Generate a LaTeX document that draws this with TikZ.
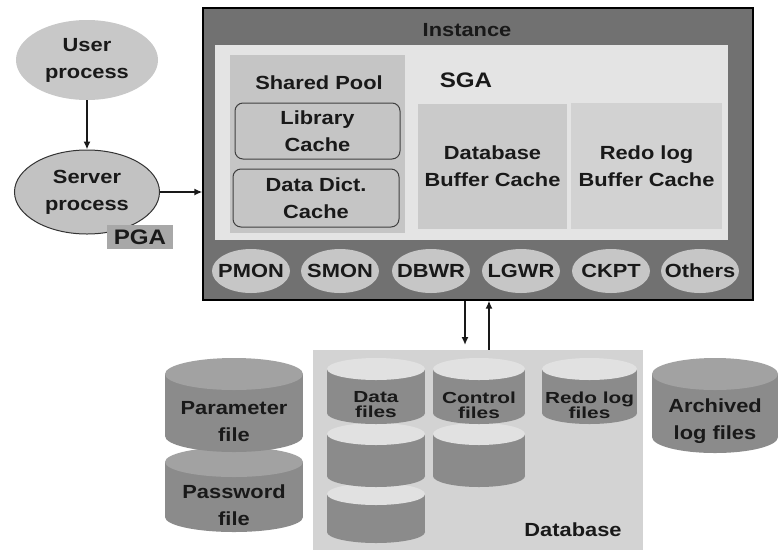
\documentclass[tikz,border=0pt]{standalone}
\usepackage{fontspec}
\setmainfont{Liberation Sans}[FakeStretch=1.15]
\newfontfamily\cylfont{Liberation Sans}[FakeStretch=1.3]
\usetikzlibrary{shapes.geometric,arrows.meta}
\definecolor{procfill}{HTML}{C8C8C8}
\definecolor{servfill}{HTML}{C2C2C2}
\definecolor{instfill}{HTML}{717171}
\definecolor{sgafill}{HTML}{E4E4E4}
\definecolor{poolfill}{HTML}{C5C5C5}
\definecolor{bufffill}{HTML}{CACACA}
\definecolor{redofill}{HTML}{D2D2D2}
\definecolor{bgfill}{HTML}{C6C6C6}
\definecolor{dbfill}{HTML}{D3D3D3}
\definecolor{cyltop}{HTML}{E1E1E1}
\definecolor{cylbody}{HTML}{8B8B8B}
\definecolor{cyldtop}{HTML}{A2A2A2}
\definecolor{pgafill}{HTML}{A8A8A8}
\newcommand{\cylshape}[7]{%
  \fill[#7] (#1-#4,#2) rectangle (#1+#4,#3);
  \fill[#7] (#1,#3) ellipse [x radius=#4pt, y radius=#5pt];
  \fill[#6] (#1,#2) ellipse [x radius=#4pt, y radius=#5pt];}
\tikzset{
  every node/.style={font=\bfseries\fontsize{19}{27}\selectfont, text=black!90, align=center, inner sep=0pt},
  bigtxt/.style={font=\bfseries\fontsize{21}{21}\selectfont},
  cyltxt/.style={font=\cylfont\bfseries\fontsize{16}{15}\selectfont},
  area/.style={rectangle, minimum width=#1},
  bgp/.style={ellipse, fill=bgfill, minimum width=78pt, minimum height=44pt},
  cachebox/.style={rectangle, rounded corners=8pt, draw=black!75, line width=1pt, fill=poolfill},
  arr/.style={-{Latex[length=8pt,width=7pt]}, line width=1.6pt, draw=black!90}
}
\begin{document}
\begin{tikzpicture}[x=1pt,y=-1pt]
\useasboundingbox[fill=white] (0,0) rectangle (779,550);

% left processes
\node[ellipse, fill=procfill, minimum width=142pt, minimum height=80pt] (user) at (87,60) {User\\process};
\node[ellipse, fill=servfill, draw=black!80, line width=1pt, minimum width=145pt, minimum height=84pt] (server) at (87,192) {Server\\process};
\node[rectangle, fill=pgafill, minimum width=66pt, minimum height=24pt, bigtxt] (pga) at (140,237) {PGA};

% instance
\node[rectangle, draw=black, line width=1.2pt, fill=instfill, minimum width=550pt, minimum height=292pt] (inst) at (478,154) {};
\node (insttitle) at (467,30) {Instance};
\node[rectangle, fill=sgafill, minimum width=513pt, minimum height=195pt] (sga) at (471.5,142.5) {};
\node[bigtxt] (sgalabel) at (466,80) {SGA};
\node[rectangle, fill=poolfill, minimum width=175pt, minimum height=178pt] (pool) at (317.5,144) {};
\node (poollabel) at (319,83) {Shared Pool};
\node[cachebox, minimum width=165pt, minimum height=56pt] (lib) at (317.5,131) {Library\\Cache};
\node[cachebox, minimum width=166pt, minimum height=58pt] (dict) at (316,198) {Data Dict.\\Cache};
\node[rectangle, fill=bufffill, minimum width=149pt, minimum height=125pt] (dbbuf) at (492.5,166) {Database\\Buffer Cache};
\node[rectangle, fill=redofill, minimum width=151pt, minimum height=126pt] (redobuf) at (646.5,166) {Redo log\\Buffer Cache};

% background processes
\node[bgp, label={center:PMON}] (pmon) at (251,271) {};
\node[bgp, label={center:SMON}] (smon) at (340,271) {};
\node[bgp, label={center:DBWR}] (dbwr) at (431,271) {};
\node[bgp, label={center:LGWR}] (lgwr) at (521,271) {};
\node[bgp, label={center:CKPT}] (ckpt) at (611,271) {};
\node[bgp, label={center:Others}] (others) at (700,271) {};

% database
\node[rectangle, fill=dbfill, minimum width=330pt, minimum height=200pt] (db) at (478,450) {};
\node (dblabel) at (573,530) {Database};

% data files (bottom first)
\cylshape{376}{494}{532}{49}{11}{cyltop}{cylbody}
\cylshape{376}{434}{476}{49}{11}{cyltop}{cylbody}
\cylshape{376}{369}{413}{49}{11}{cyltop}{cylbody}
\node[cyltxt] (datat) at (376,405) {Data\\files};
% control files
\cylshape{479}{434}{476}{46}{11}{cyltop}{cylbody}
\cylshape{479}{369}{413}{46}{11}{cyltop}{cylbody}
\node[cyltxt] (ctlt) at (479,405) {Control\\files};
% redo log files
\cylshape{589.5}{369}{413}{47.5}{11}{cyltop}{cylbody}
\node[cyltxt] (redot) at (589.5,405) {Redo log\\files};

% parameter / password files
\cylshape{234}{462}{517}{69}{15}{cyldtop}{cylbody}
\cylshape{234}{374}{436}{69}{16}{cyldtop}{cylbody}
\node (paramt) at (234,422) {Parameter\\file};
\node (passt) at (234,505) {Password\\file};

% archived log files
\cylshape{715}{374}{437}{63}{16}{cyldtop}{cylbody}
\node (archt) at (715,421) {Archived\\log files};

% connectors
\draw[arr] (user) -- (server);
\draw[arr] (server.east) -- (inst.west |- server.east);
\coordinate (dnend) at (465,345);
\coordinate (upx) at (489,0);
\draw[arr] (inst.south -| dnend) -- (dnend);
\draw[arr] (db.north -| upx) -- (inst.south -| upx);
\end{tikzpicture}
\end{document}
